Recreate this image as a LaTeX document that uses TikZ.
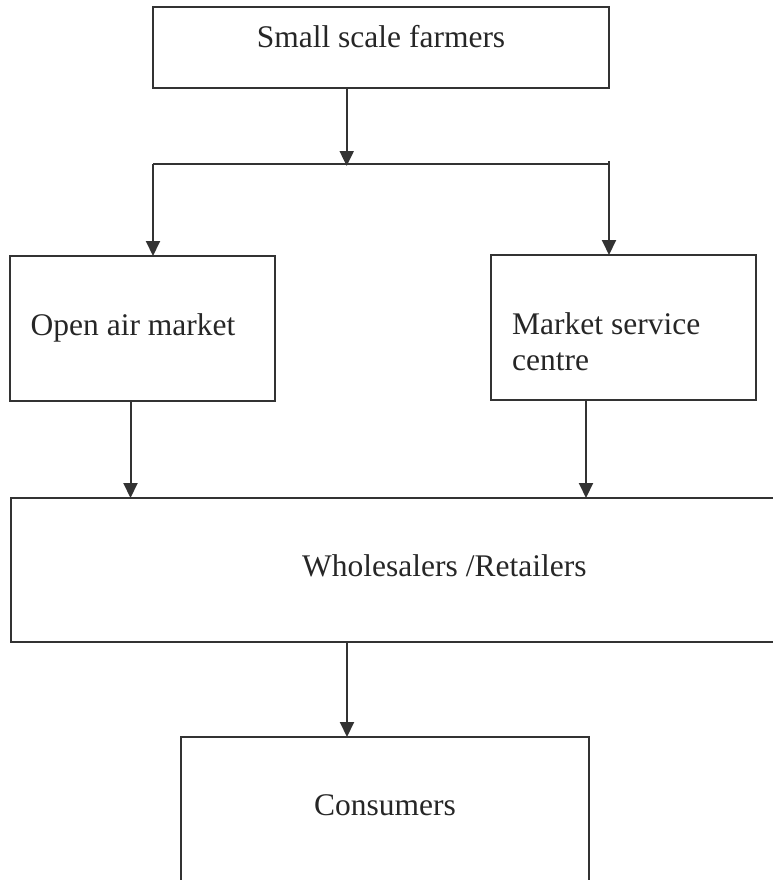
\documentclass[tikz,border=0pt]{standalone}
\usepackage{fontspec}
\setmainfont{Liberation Serif}
\usetikzlibrary{arrows.meta}
\definecolor{ink}{HTML}{333333}
\definecolor{txt}{HTML}{262626}
\tikzset{
  box/.style={draw=ink, line width=2pt, inner sep=0pt, outer sep=0pt},
  lbl/.style={text=txt, inner sep=0pt, font=\fontsize{31.5}{36}\selectfont},
  arr/.style={draw=ink, line width=2pt, -{Triangle[length=15pt,width=14pt]}},
  ln/.style={draw=ink, line width=2pt}
}
\begin{document}
\begin{tikzpicture}[x=1pt,y=-1pt]
\useasboundingbox (0,0) rectangle (773,880);
\begin{scope}
\clip (0,0) rectangle (773,880);
% boxes
\node[box, minimum width=456pt, minimum height=81pt] (top) at (381,47.5) {};
\node[box, minimum width=265pt, minimum height=145pt] (oam) at (142.5,328.5) {};
\node[box, minimum width=265pt, minimum height=145pt] (msc) at (623.5,327.5) {};
\node[box, minimum width=780pt, minimum height=143.5pt] (ws) at (401,569.75) {};
\node[box, minimum width=408pt, minimum height=170pt] (con) at (385,822) {};
% labels
\node[lbl, anchor=base] (t1) at (381,48) {Small scale farmers};
\node[lbl, anchor=base west] (t2) at (30.5,335) {Open air market};
\node[lbl, anchor=base west] (t3) at (512,334) {Market service};
\node[lbl, anchor=base west] (t4) at (512,370) {centre};
\node[lbl, anchor=base west] (t5) at (302,576.5) {Wholesalers /Retailers};
\node[lbl, anchor=base west] (t6) at (314,815.5) {Consumers};
% connectors
\coordinate (bm) at (346.7,164);
\coordinate (bl) at (153,164);
\coordinate (br) at (609,164);
\coordinate (brt) at (609,161);
\draw[arr] (bm |- top.south) -- ([yshift=-2]bm);
\draw[ln] (bl) -- (br);
\draw[arr] (bl) -- (bl |- oam.north);
\draw[arr] (brt) -- (br |- msc.north);
\draw[arr] ([xshift=-12]oam.south) -- ([xshift=-12]oam.south |- ws.north);
\draw[arr] ([xshift=-37.5]msc.south) -- ([xshift=-37.5]msc.south |- ws.north);
\draw[arr] ([xshift=-38]con.north |- ws.south) -- ([xshift=-38]con.north);
\end{scope}
\end{tikzpicture}
\end{document}
